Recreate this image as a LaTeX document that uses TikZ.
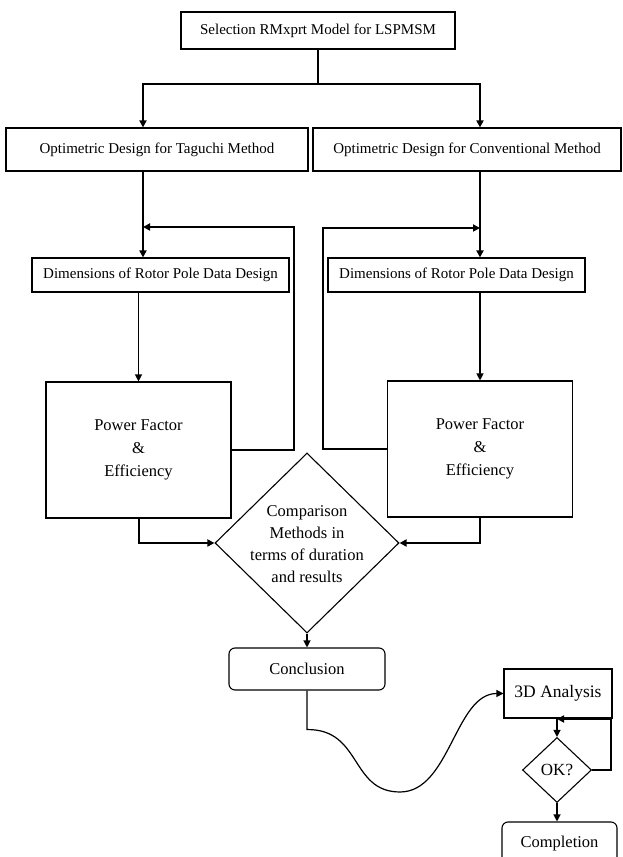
\documentclass[tikz,border=0pt]{standalone}
\usepackage{fontspec}
\setmainfont{Liberation Serif}
\usetikzlibrary{
    shapes.geometric,
    arrows.meta,
    positioning,
    calc
}

\begin{document}
\begin{tikzpicture}[
            x=10pt, y=10pt,
            font=\fontsize{15}{18}\selectfont,
            >=Latex,
            block/.style={draw, line width=1.1pt, align=center, inner sep=2pt},
            design/.style={block, minimum height=43pt},
            dims/.style={block, minimum width=257pt, minimum height=34pt},
            result/.style={block, minimum width=185pt, minimum height=136pt, font=\fontsize{16.5}{23}\selectfont},
            term/.style={block, rounded corners=6pt, font=\fontsize{16.5}{20}\selectfont},
            decide/.style={draw, diamond, line width=1.1pt, inner sep=0pt},
            note/.style={align=center, font=\fontsize{16.5}{22}\selectfont},
            wire/.style={line width=2pt},
            arr/.style={-{Triangle[length=7pt, width=7pt]}, line width=1.2pt},
            barr/.style={arr, line width=2pt}
        ]
            \useasboundingbox (0,0) rectangle (62.2,85.7);
            \clip (0,0) rectangle (62.2,85.7);

            % ====== Design branches ======
            \node[block, minimum width=274pt, minimum height=37pt] (sel) at (31.8, 82.65) {Selection RMxprt Model for LSPMSM};
            \node[design, minimum width=302pt] (tag) at (15.7, 70.75) {Optimetric Design for Taguchi Method};
            \node[design, minimum width=308pt] (conv) at (46.7, 70.75) {Optimetric Design for Conventional Method};

            \coordinate (split) at (31.8, 77.3);
            \coordinate (colL) at (14.3, 0);
            \coordinate (colR) at (48.0, 0);

            \draw[wire] (sel) -- (split);
            \draw[barr] (split) -| (tag.north -| colL);
            \draw[barr] (split) -| (conv.north -| colR);

            % ====== Rotor pole data and results ======
            \node[dims] (dimL) at (16.05, 58.2) {Dimensions of Rotor Pole Data Design};
            \node[dims] (dimR) at (45.65, 58.2) {Dimensions of Rotor Pole Data Design};
            \node[result] (pfL) at (13.85, 40.7) {Power Factor\\\&\\Efficiency};
            \node[result] (pfR) at (48.0, 40.8) {Power Factor\\\&\\Efficiency};

            \draw[barr] (tag.south -| colL) -- (dimL.north -| colL);
            \draw[barr] (conv.south -| colR) -- (dimR.north -| colR);
            \draw[arr] (dimL.south -| pfL.north) -- (pfL.north);
            \draw[arr] (dimR.south -| pfR.north) -- (pfR.north);

            \coordinate (fbL) at (29.4, 63.0);
            \coordinate (fbR) at (32.3, 62.9);
            \draw[barr] (pfL.east) -| (fbL) -- (fbL -| colL);
            \draw[barr] (pfR.west) -| (fbR) -- (fbR -| colR);

            % ====== Comparison ======
            \node[decide, minimum width=184pt, minimum height=180pt] (cmp) at (30.7, 31.4) {};
            \node[note] (cmptext) at (30.7, 31.3) {Comparison\\Methods in\\terms of duration\\and results};

            \draw[barr] (pfL.south) |- (cmp.west);
            \draw[barr] (pfR.south) |- (cmp.east);

            \node[term, minimum width=156pt, minimum height=42pt] (con) at (30.7, 18.8) {Conclusion};
            \draw[arr] (cmp.south) -- (con.north);

            % ====== 3D check ======
            \node[block, minimum width=108pt, minimum height=49pt, font=\fontsize{17.5}{20}\selectfont] (ana) at (55.8, 16.35) {3D Analysis};
            \node[decide, minimum width=69pt, minimum height=65pt, font=\fontsize{17}{20}\selectfont] (ok) at (55.7, 8.7) {OK?};
            \node[term, minimum width=115pt, minimum height=44pt] (com) at (55.95, 1.3) {Completion};

            \draw[arr] (con.south) -- ++(0,-3.9)
                .. controls (36.2,12.8) and (35.0,6.5) .. (40.0,6.5)
                .. controls (45.0,6.5) and (45.5,16.35) .. (ana.west);
            \draw[arr] (ana.south -| ok.north) -- (ok.north);
            \coordinate (okfb) at (61.1, 13.8);
            \draw[barr] (ok.east) -| (okfb) -- (okfb -| ok.north);
            \draw[arr] (ok.south) -- (ok.south |- com.north);
        \end{tikzpicture}
\end{document}
